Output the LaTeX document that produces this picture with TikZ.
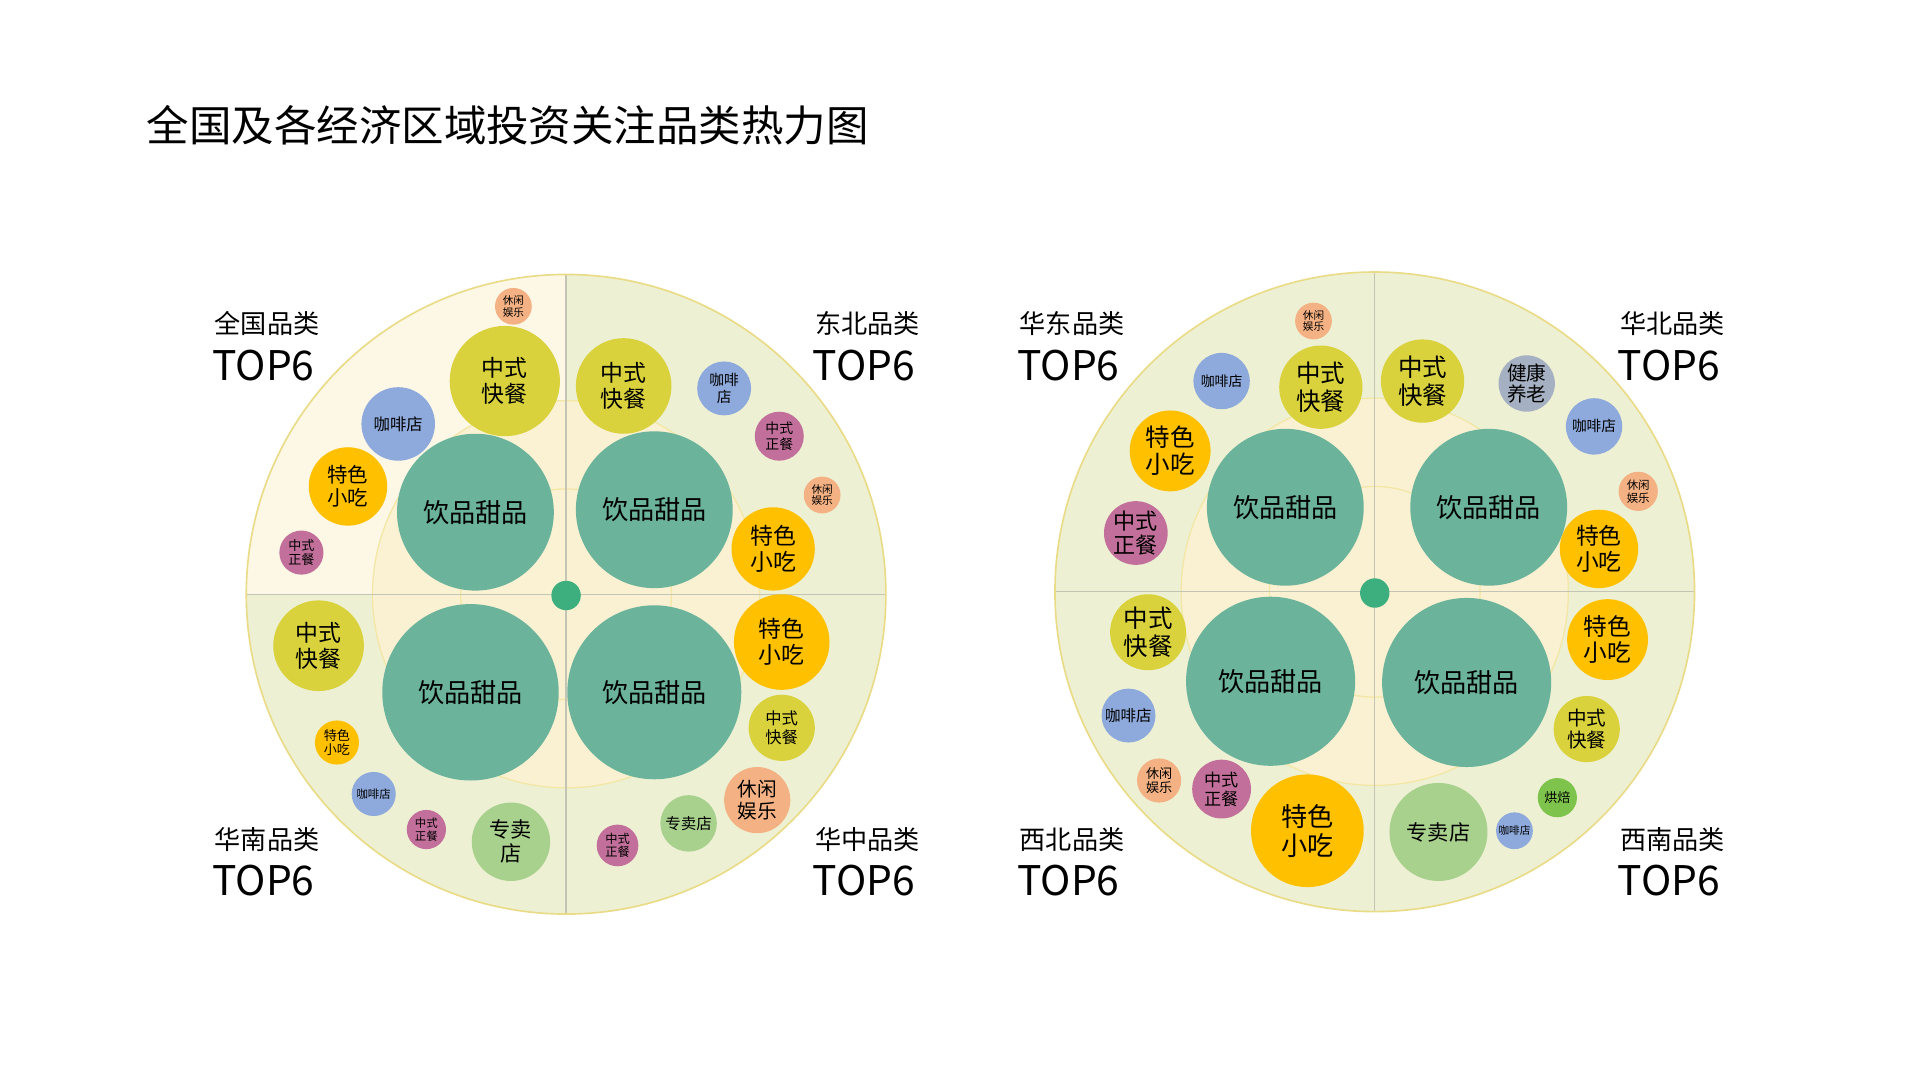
\documentclass[tikz,border=0pt]{standalone}
\usepackage{fontspec}
\setmainfont{Noto Sans CJK SC}
\newcommand{\bubf}[1]{\fontsize{#1}{\fpeval{#1*1.12}}\selectfont}
\begin{document}
\begin{tikzpicture}[x=0.75pt,y=-0.75pt]
\definecolor{cream}{HTML}{FDF7E6}
\definecolor{lgreen}{HTML}{EDF0D3}
\definecolor{inner}{HTML}{FBF2D2}
\definecolor{ring}{HTML}{F3E7A6}
\definecolor{outer}{HTML}{EADB86}
\definecolor{axis}{HTML}{C4C4B4}
\definecolor{cyg}{HTML}{D9D23C}
\definecolor{cbl}{HTML}{8EA9DB}
\definecolor{cor}{HTML}{FFC000}
\definecolor{cpk}{HTML}{C2709B}
\definecolor{csa}{HTML}{F4B183}
\definecolor{cte}{HTML}{6BB39A}
\definecolor{clg}{HTML}{A9D18E}
\definecolor{cgr}{HTML}{7EC34B}
\definecolor{cgy}{HTML}{A5B0C2}
\definecolor{dot}{HTML}{3DAF7E}
\tikzset{bub/.style={circle,inner sep=0pt,align=center,text=black}}
\newcommand{\bub}[7]{\node[bub,fill=#4,minimum size=#3*1.5pt,font=\bubf{#6}] (#7) at (#1,#2) {#5};}
\useasboundingbox (0,0) rectangle (1567,882);
\fill[white] (0,0) rectangle (1567,882);
\node[anchor=west,font=\fontsize{26}{28}\selectfont] (title) at (115,102) {全国及各经济区域投资关注品类热力图};
% plates
\foreach \cx/\cy/\tl [count=\i] in {462/485/cream,1122/483/lgreen}{
  \begin{scope}
    \clip (\cx,\cy) circle [radius=261*0.75pt];
    \fill[lgreen] (\cx-270,\cy-270) rectangle (\cx+270,\cy+270);
    \fill[\tl] (\cx-270,\cy-270) rectangle (\cx,\cy);
    \fill[inner,opacity=0.9] (\cx,\cy) circle [radius=158*0.75pt];
    \draw[ring,line width=0.8pt] (\cx,\cy) circle [radius=158*0.75pt];
    \draw[ring,line width=0.8pt] (\cx,\cy) circle [radius=86*0.75pt];
    \draw[axis,line width=0.8pt] (\cx-265,\cy) -- (\cx+265,\cy);
    \draw[axis,line width=0.8pt] (\cx,\cy-265) -- (\cx,\cy+265);
  \end{scope}
  \draw[outer,line width=1pt] (\cx,\cy) circle [radius=261*0.75pt];
}
% left plate
\bub{419}{250}{15}{csa}{休闲\\娱乐}{6.5}{a1}
\bub{412}{311}{45}{cyg}{中式\\快餐}{14}{a2}
\bub{325}{346}{30}{cbl}{咖啡店}{10}{a3}
\bub{284}{397}{32}{cor}{特色\\小吃}{12.5}{a4}
\bub{246}{451}{18}{cpk}{中式\\正餐}{8}{a5}
\bub{388}{418}{64}{cte}{饮品甜品}{16}{a6}
\bub{509}{315}{39}{cyg}{中式\\快餐}{14}{b1}
\bub{591}{317}{22}{cbl}{咖啡\\店}{9}{b2}
\bub{636}{356}{20}{cpk}{中式\\正餐}{8.5}{b3}
\bub{671}{404}{15}{csa}{休闲\\娱乐}{6.5}{b4}
\bub{631}{448}{34}{cor}{特色\\小吃}{14}{b5}
\bub{534}{416}{64}{cte}{饮品甜品}{16}{b6}
\bub{260}{527}{37}{cyg}{中式\\快餐}{14}{c1}
\bub{384}{565}{72}{cte}{饮品甜品}{16}{c2}
\bub{275}{606}{18}{cor}{特色\\小吃}{8}{c3}
\bub{305}{648}{18}{cbl}{咖啡店}{7}{c4}
\bub{348}{677}{16}{cpk}{中式\\正餐}{7}{c5}
\bub{417}{687}{32}{clg}{专卖\\店}{13}{c6}
\bub{534}{565}{71}{cte}{饮品甜品}{16}{d1}
\bub{638}{524}{39}{cor}{特色\\小吃}{14}{d2}
\bub{638}{594}{27}{cyg}{中式\\快餐}{10}{d3}
\bub{618}{653}{27}{csa}{休闲\\娱乐}{12}{d4}
\bub{562}{672}{23}{clg}{专卖店}{9.5}{d5}
\bub{504}{690}{17}{cpk}{中式\\正餐}{7.5}{d6}
\node[circle,fill=dot,minimum size=18pt,inner sep=0] (dl) at (462,486) {};
% right plate
\bub{1072}{262}{15}{csa}{休闲\\娱乐}{6.5}{e1}
\bub{997}{311}{23}{cbl}{咖啡店}{8.5}{e2}
\bub{1078}{316}{34}{cyg}{中式\\快餐}{15}{e3}
\bub{955}{368}{33}{cor}{特色\\小吃}{15}{e4}
\bub{927}{435}{26}{cpk}{中式\\正餐}{13.5}{e5}
\bub{1049}{414}{64}{cte}{饮品甜品}{16}{e6}
\bub{1161}{311}{34}{cyg}{中式\\快餐}{15}{f1}
\bub{1246}{313}{23}{cgy}{健康\\养老}{12}{f2}
\bub{1301}{348}{23}{cbl}{咖啡店}{9}{f3}
\bub{1337}{401}{16}{csa}{休闲\\娱乐}{7}{f4}
\bub{1305}{448}{32}{cor}{特色\\小吃}{14}{f5}
\bub{1215}{414}{64}{cte}{饮品甜品}{16}{f6}
\bub{937}{516}{31}{cyg}{中式\\快餐}{15}{g1}
\bub{1037}{556}{69}{cte}{饮品甜品}{16}{g2}
\bub{921}{584}{22}{cbl}{咖啡店}{9.5}{g3}
\bub{946}{637}{18}{csa}{休闲\\娱乐}{8}{g4}
\bub{997}{644}{24}{cpk}{中式\\正餐}{10.5}{g5}
\bub{1067}{678}{46}{cor}{特色\\小吃}{16}{g6}
\bub{1197}{557}{69}{cte}{饮品甜品}{16}{h1}
\bub{1312}{522}{33}{cor}{特色\\小吃}{14.5}{h2}
\bub{1295}{595}{27}{cyg}{中式\\快餐}{12}{h3}
\bub{1271}{651}{16}{cgr}{烘焙}{8}{h4}
\bub{1236}{678}{15}{cbl}{咖啡店}{6.5}{h5}
\bub{1174}{679}{40}{clg}{专卖店}{13}{h6}
\node[circle,fill=dot,minimum size=18pt,inner sep=0] (dr) at (1122,484) {};
% labels
\foreach \x/\y/\t [count=\k] in {175/264/全国品类,665/264/东北品类,175/685/华南品类,665/685/华中品类,832/264/华东品类,1322/264/华北品类,832/685/西北品类,1322/685/西南品类}{
  \node[anchor=west,inner sep=0,font=\fontsize{16}{16}\selectfont] (l\k) at (\x,\y) {\t};
  \node[anchor=west,inner sep=0,font=\fontsize{25}{25}\selectfont] (t\k) at (\x-2,\y+34) {TOP6};
}
\end{tikzpicture}
\end{document}
